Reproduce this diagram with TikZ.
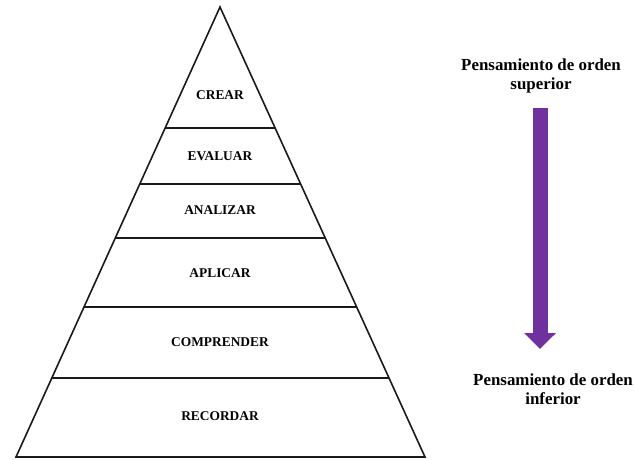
\documentclass[tikz,border=0pt]{standalone}
\usepackage{fontspec}
\setmainfont{Liberation Serif}
\usepackage{tikz}
\usetikzlibrary{arrows.meta,calc,positioning}
\definecolor{arrowpurple}{HTML}{7030A0}
\definecolor{edge}{HTML}{1A1A1A}

\begin{document}
\begin{tikzpicture}[x=1pt,y=-1pt,
    level/.style={font=\fontsize{13.4}{15}\selectfont\bfseries},
    side/.style={font=\fontsize{16.9}{19.2}\selectfont\bfseries,align=center}]
  \useasboundingbox (0,0) rectangle (634,459);
  % pyramid outline
  \coordinate (apex) at (220,7);
  \coordinate (bl) at (16,457);
  \coordinate (br) at (425,457);
  \draw[edge,line width=1.6pt,line join=miter] (bl) -- (apex) -- (br) -- cycle;
  \foreach \y in {128,184,238,307,378}{
    \pgfmathsetmacro\hw{(\y-7)*0.4545}
    \draw[edge,line width=1.6pt] ({220-\hw},\y) -- ({220+\hw},\y);
  }
  % levels
  \node[level] (crear) at (220,95) {CREAR};
  \node[level] (evaluar) at (220,156) {EVALUAR};
  \node[level] (analizar) at (220,210) {ANALIZAR};
  \node[level] (aplicar) at (220,273) {APLICAR};
  \node[level] (comprender) at (220,342) {COMPRENDER};
  \node[level] (recordar) at (220,416) {RECORDAR};
  % thinking order
  \node[side] (superior) at (541,76) {Pensamiento de orden\\superior};
  \node[side] (inferior) at (553,389) {Pensamiento de orden\\inferior};
  \coordinate (atop) at (540,108);
  \coordinate (abot) at (540,349);
  \draw[arrowpurple,line width=15pt,-{Triangle[length=16pt,width=31pt]}] (atop) -- (abot);
\end{tikzpicture}
\end{document}
